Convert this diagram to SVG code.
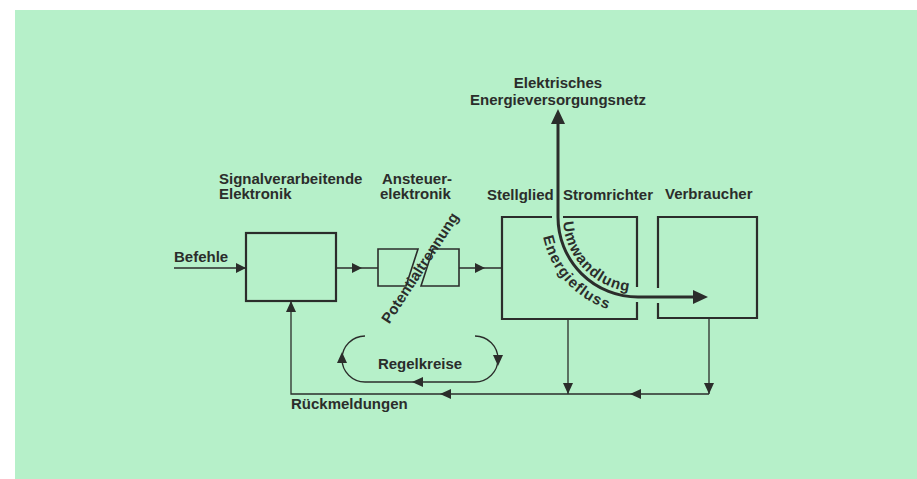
<svg xmlns="http://www.w3.org/2000/svg" width="917" height="479" viewBox="0 0 917 479">
<style>
text{font-family:"Liberation Sans",Arial,sans-serif;font-weight:bold;font-size:15px;fill:#2b2d2b}
.box{fill:none;stroke:#2b2d2b;stroke-width:2.2}
.thin{fill:none;stroke:#2b2d2b;stroke-width:1.3}
.thick{fill:none;stroke:#2b2d2b;stroke-width:3}
.ah{fill:#2b2d2b;stroke:none}
</style>
<defs>
<path id="arcU" d="M563,217 A75,75 0 0 0 638,292"/>
<path id="arcE" d="M541,217 A97,97 0 0 0 638,314"/>
</defs>
<rect x="0" y="0" width="917" height="479" fill="#ffffff"/>
<rect x="15" y="10" width="902" height="469" fill="#b6f0c9"/>

<g id="befehle">
<text x="174" y="262">Befehle</text>
</g>
<g id="signalverarbeitung">
<text x="219" y="184">Signalverarbeitende</text>
<text x="219" y="199">Elektronik</text>
<rect class="box" x="246" y="233" width="90" height="68"/>
</g>
<g id="ansteuerelektronik">
<text x="382" y="184">Ansteuer-</text>
<text x="380" y="199">elektronik</text>
<polygon class="box" style="stroke-width:1.6" points="378,249 418,249 406,286 378,286"/>
<polygon class="box" style="stroke-width:1.6" points="433,249 459,249 459,286 421,286"/>
<text x="0" y="5" text-anchor="middle" transform="translate(420,268) rotate(-57)">Potentialtrennung</text>
</g>
<g id="stellglied">
<text x="487" y="200">Stellglied</text>
<text x="563" y="200">Stromrichter</text>
<path class="box" d="M552,217 H502 V319 H637 V302 M637,287 V217 H563"/>
</g>
<g id="verbraucher">
<text x="665" y="199">Verbraucher</text>
<path class="box" d="M658,288 V217 H757 V318 H658 V303"/>
</g>
<g id="netz">
<text x="558" y="88" text-anchor="middle">Elektrisches</text>
<text x="558" y="105" text-anchor="middle">Energieversorgungsnetz</text>
</g>
<g id="regelkreise">
<text x="420" y="369" text-anchor="middle">Regelkreise</text>
</g>
<g id="rueckmeldungen">
<text x="291" y="409">Rückmeldungen</text>
</g>

<g id="connectors">
<!-- forward signal path -->
<line class="thin" x1="174" y1="268" x2="246" y2="268"/>
<polygon class="ah" points="246,268 236,263 236,273"/>
<line class="thin" x1="336" y1="268" x2="378" y2="268"/>
<polygon class="ah" points="362,268 352,263 352,273"/>
<line class="thin" x1="459" y1="268" x2="502" y2="268"/>
<polygon class="ah" points="485,268 475,263 475,273"/>
<!-- energy flow -->
<path class="thick" d="M558,122 V217 A80,80 0 0 0 638,297 H696"/>
<polygon class="ah" points="558,109 551,124 565,124"/>
<polygon class="ah" points="708,297 693,290 693,304"/>
<text style="letter-spacing:1px"><textPath href="#arcU" startOffset="5">Umwandlung</textPath></text>
<text style="letter-spacing:1px"><textPath href="#arcE" startOffset="20">Energiefluss</textPath></text>
<!-- feedback -->
<path class="thin" d="M568,319 V394 M709,318 V394 M709,394 H291 V301"/>
<polygon class="ah" points="568,394 563,383 573,383"/>
<polygon class="ah" points="709,394 704,383 714,383"/>
<polygon class="ah" points="630,394 641,389 641,399"/>
<polygon class="ah" points="440,394 451,389 451,399"/>
<polygon class="ah" points="291,301 286,312 296,312"/>
<!-- control loop -->
<path class="thin" d="M475,336 A23,23 0 0 1 498,359 A23,23 0 0 1 475,382 L365,382 A23,23 0 0 1 342,359 A23,23 0 0 1 365,336"/>
<polygon class="ah" points="498,366 493,355 503,355"/>
<polygon class="ah" points="412,382 423,377 423,387"/>
<polygon class="ah" points="342,352 337,363 347,363"/>
</g>
</svg>
